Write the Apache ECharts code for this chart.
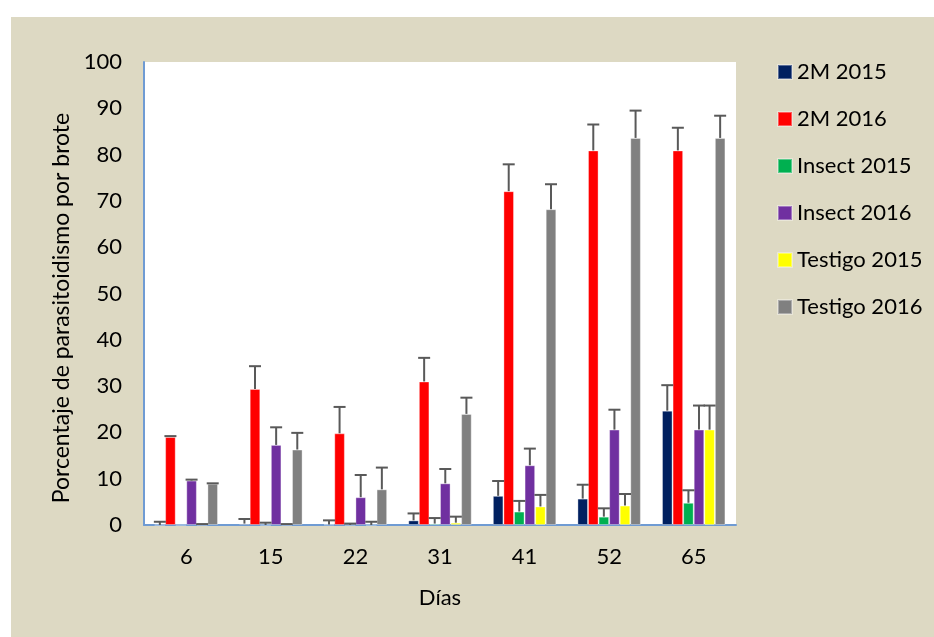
<!DOCTYPE html>
<html>
<head>
<meta charset="utf-8">
<script src="https://cdn.jsdelivr.net/npm/echarts@6/dist/echarts.min.js"></script>
<style>
  html, body { margin: 0; padding: 0; background: #ffffff; }
  #chart { position: absolute; left: 11px; top: 17px; width: 923px; height: 620px; background: #ddd9c3; }
</style>
</head>
<body>
<div id="chart"></div>
<script>
var days = ['6', '15', '22', '31', '41', '52', '65'];
var yTicks = [0, 10, 20, 30, 40, 50, 60, 70, 80, 90, 100];

// valores medios por serie
var m2015 = [0, 0.3, 0.1, 1.0, 6.3, 5.7, 24.7];
var m2016 = [19.0, 29.4, 19.8, 31.0, 72.1, 80.9, 80.9];
var ins2015 = [0, 0, 0, 0.3, 2.9, 1.8, 4.8];
var ins2016 = [9.6, 17.3, 6.0, 9.0, 12.9, 20.6, 20.6];
var tes2015 = [0, 0, 0, 0.5, 4.0, 4.2, 20.6];
var tes2016 = [8.9, 16.3, 7.7, 24.0, 68.2, 83.6, 83.6];

// error (solo hacia arriba)
var m2015Err = [0.7, 1.0, 0.9, 1.5, 3.2, 3.0, 5.5];
var m2016Err = [0.2, 4.9, 5.7, 5.1, 5.8, 5.6, 4.9];
var ins2015Err = [0, 0.5, 0.3, 1.2, 2.3, 1.8, 2.7];
var ins2016Err = [0.2, 3.8, 4.8, 3.1, 3.6, 4.3, 5.2];
var tes2015Err = [0.2, 0.2, 0.7, 1.3, 2.5, 2.5, 5.2];
var tes2016Err = [0.1, 3.6, 4.7, 3.5, 5.4, 5.9, 4.8];

var names = ['2M 2015', '2M 2016', 'Insect 2015', 'Insect 2016', 'Testigo 2015', 'Testigo 2016'];
var colors = ['#002060', '#ff0000', '#00b050', '#7030a0', '#ffff00', '#808080'];
var values = [m2015, m2016, ins2015, ins2016, tes2015, tes2016];
var errors = [m2015Err, m2016Err, ins2015Err, ins2016Err, tes2015Err, tes2016Err];

var FONT = 'Lato, "Open Sans", sans-serif';
var catGap = 0.25;

var chart = echarts.init(document.getElementById('chart'));

var series = [];
for (let k = 0; k < names.length; k++) {
    series.push({
        name: names[k],
        type: 'bar',
        data: values[k],
        barGap: '0%',
        barCategoryGap: (catGap * 100) + '%',
        itemStyle: { color: colors[k], borderColor: 'rgba(255,255,255,0.35)', borderWidth: 1 },
        z: 2
    });
}
for (let k = 0; k < names.length; k++) {
    let data = [];
    for (let i = 0; i < days.length; i++) {
        data.push([i, values[k][i], errors[k][i]]);
    }
    series.push({
        type: 'custom',
        data: data,
        z: 3,
        renderItem: function (params, api) {
            var err = api.value(2);
            if (!err) return null;
            var base = api.coord([api.value(0), api.value(1)]);
            var top = api.coord([api.value(0), api.value(1) + err]);
            var band = api.size([1, 0])[0];
            var bw = band * (1 - catGap) / names.length;
            var x = base[0] + (k - (names.length - 1) / 2) * bw;
            var st = { stroke: '#595959', lineWidth: 2 };
            return {
                type: 'group',
                children: [
                    { type: 'line', shape: { x1: x, y1: base[1], x2: x, y2: top[1] }, style: st },
                    { type: 'line', shape: { x1: x - 6, y1: top[1], x2: x + 6, y2: top[1] }, style: st }
                ]
            };
        }
    });
}

var option = {
    animation: false,
    textStyle: { fontFamily: FONT },
    grid: { left: 133, top: 45, right: 198, bottom: 112, show: true, backgroundColor: '#ffffff', borderWidth: 0 },
    // titulo del eje y, un poco por debajo del centro como en el original
    graphic: [{
        type: 'text',
        x: 51,
        y: 291,
        rotation: Math.PI / 2,
        style: {
            text: 'Porcentaje de parasitoidismo por brote',
            fontFamily: FONT,
            fontSize: 23,
            fill: '#000',
            align: 'center',
            verticalAlign: 'middle'
        }
    }],
    legend: {
        data: names,
        orient: 'vertical',
        left: 766,
        top: 44,
        padding: 0,
        itemWidth: 14,
        itemHeight: 14,
        itemGap: 25,
        icon: 'rect',
        textStyle: { fontFamily: FONT, fontSize: 22, color: '#000', lineHeight: 20 }
    },
    xAxis: {
        type: 'category',
        data: days,
        name: 'Días',
        nameLocation: 'middle',
        nameGap: 62,
        nameTextStyle: { fontFamily: FONT, fontSize: 22, color: '#000' },
        axisLine: { lineStyle: { color: '#6f9bd3', width: 2 } },
        axisTick: { show: false },
        axisLabel: { fontFamily: FONT, fontSize: 22, color: '#000', margin: 21 }
    },
    yAxis: {
        type: 'value',
        min: yTicks[0],
        max: yTicks[yTicks.length - 1],
        interval: yTicks[1] - yTicks[0],
        axisLine: { show: true, lineStyle: { color: '#6f9bd3', width: 2 } },
        axisTick: { show: false },
        splitLine: { show: false },
        axisLabel: { fontFamily: FONT, fontSize: 22, color: '#000', margin: 22 }
    },
    series: series
};
chart.setOption(option);
</script>
</body>
</html>
